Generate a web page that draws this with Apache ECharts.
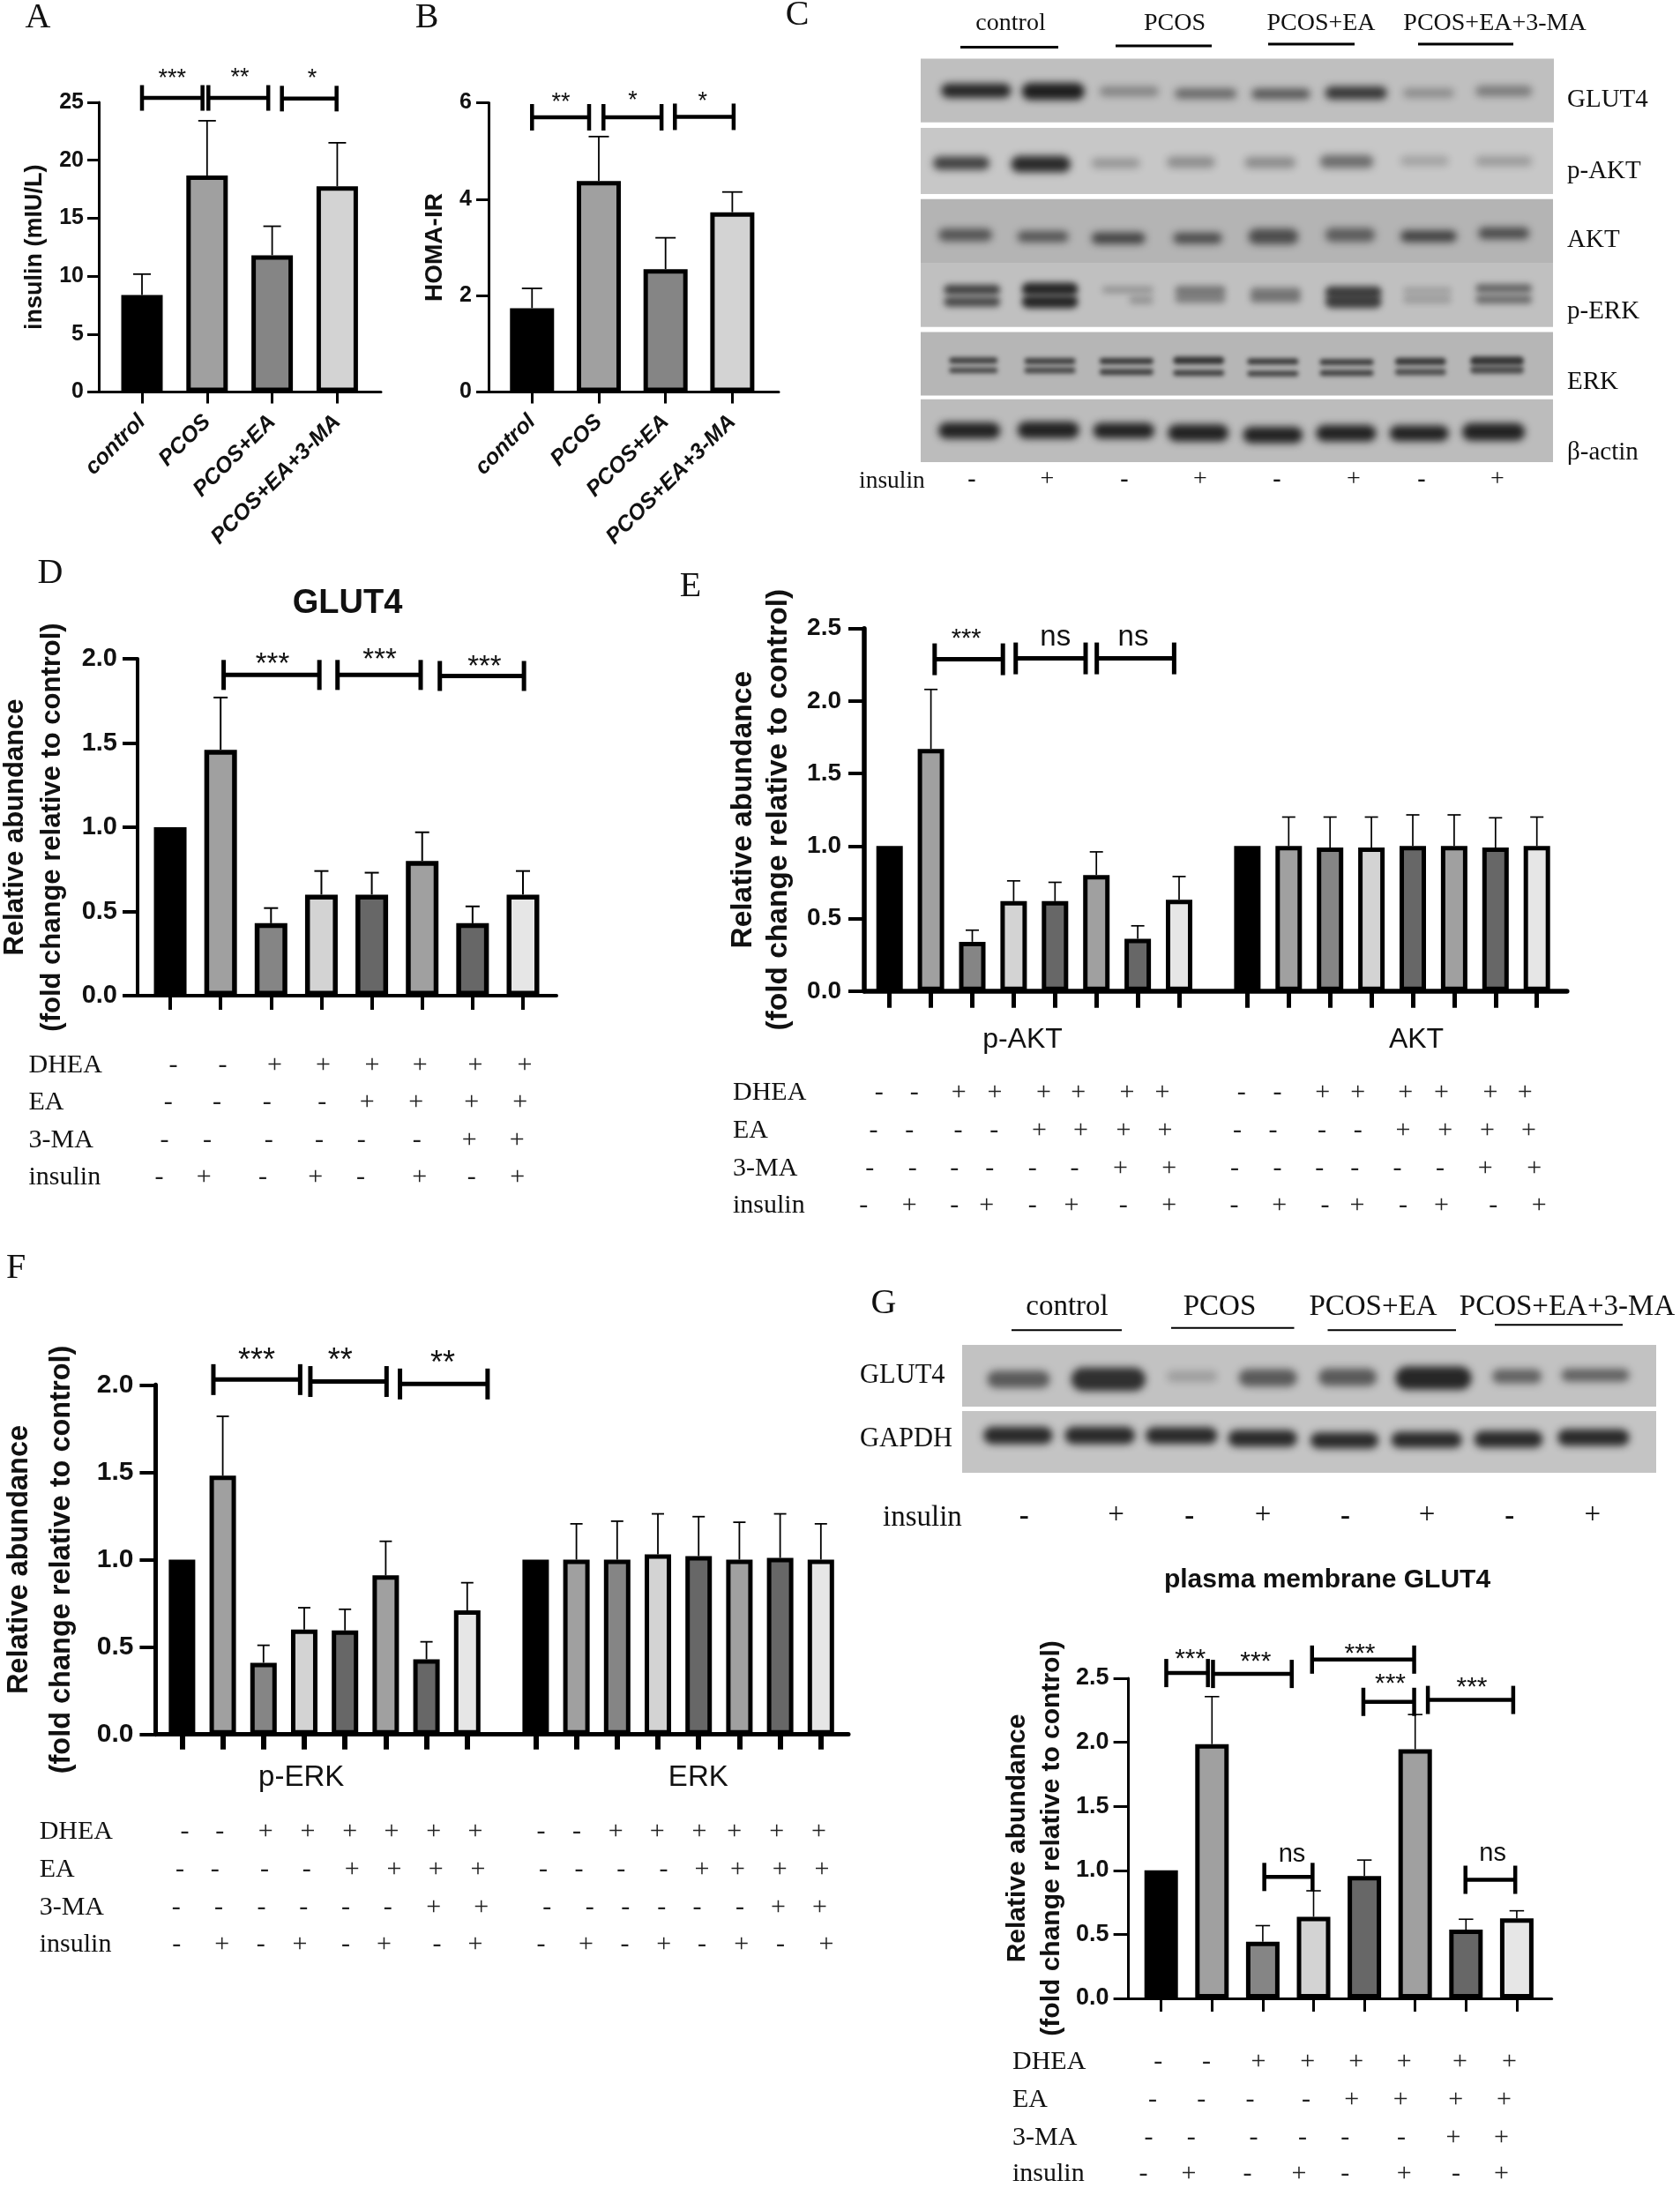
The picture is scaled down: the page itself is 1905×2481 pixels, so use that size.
<!DOCTYPE html>
<html><head><meta charset="utf-8">
<style>html,body{margin:0;padding:0;background:#fff}#c{width:1905px;height:2481px}</style>
<script src="https://cdn.jsdelivr.net/npm/echarts@6/dist/echarts.min.js"></script>
</head><body><div id="c"></div>
<script>
// ---------- DATA ----------
const groupNames = ['control','PCOS','PCOS+EA','PCOS+EA+3-MA'];
const insulinMean = [8.36,18.68,11.8,17.75];
const insulinErr  = [10.17,23.4,14.3,21.5];
const homaMean = [1.74,4.38,2.55,3.73];
const homaErr  = [2.15,5.3,3.2,4.15];
const glut4Mean = [1,1.46,0.43,0.60,0.60,0.80,0.43,0.60];
const glut4Err  = [null,1.77,0.52,0.74,0.73,0.97,0.53,0.74];
const pAktMean = [1,1.67,0.34,0.62,0.62,0.80,0.36,0.63];
const pAktErr  = [null,2.08,0.42,0.76,0.75,0.96,0.45,0.79];
const aktMean = [1,1,0.99,0.99,1,1,0.99,1];
const aktErr  = [null,1.2,1.2,1.2,1.215,1.215,1.195,1.2];
const pErkMean = [1,1.48,0.41,0.60,0.595,0.91,0.43,0.71];
const pErkErr  = [null,1.82,0.51,0.725,0.716,1.105,0.53,0.868];
const erkMean = [1,1,1,1.03,1.02,1,1.01,1];
const erkErr  = [null,1.205,1.22,1.262,1.246,1.214,1.262,1.205];
const pmGlut4Mean = [1,1.985,0.443,0.637,0.955,1.945,0.537,0.624];
const pmGlut4Err  = [null,2.356,0.568,0.84,1.08,2.216,0.618,0.684];

const pos4 = [0,1,2,3];
const pos8 = [0,1,2,3,4,5,6,7];
const posE = [0,1,2,3,4,5,6,7,8.65,9.65,10.65,11.65,12.65,13.65,14.65,15.65];
const posF = [0,1,2,3,4,5,6,7,8.68,9.68,10.68,11.68,12.68,13.68,14.68,15.68];

const FILLS4 = ['#000000','#a0a0a0','#858585','#d3d3d3'];
const FILLS8 = ['#000000','#a0a0a0','#858585','#d3d3d3','#676767','#a0a0a0','#676767','#e6e6e6'];

const signRows = {
  DHEA:'--++++++', EA:'----++++', '3-MA':'------++', insulin:'-+-+-+-+'
};

// significance brackets, in axis units: [from bar, to bar, level]
const bracketsA = [[0,0.93,25.37],[1.02,1.94,25.37],[2.15,2.99,25.31]];
const bracketsB = [[0,0.855,5.70],[1.07,1.94,5.70],[2.14,3.02,5.71]];
const bracketsD = [[1.06,2.96,1.904],[3.32,4.97,1.904],[5.35,7.02,1.898]];
const bracketsE = [[1.09,2.74,2.288],[3.05,4.74,2.294],[5.01,6.88,2.294]];
const bracketsF = [[0.77,2.90,2.03],[3.15,5.02,2.019],[5.35,7.50,2.005]];
const bracketsG = [[0.10,0.92,2.54],[1.02,2.57,2.533],[2.97,4.98,2.645],[3.98,4.98,2.315],[5.25,6.93,2.33],[2.03,2.98,0.948],[5.99,6.97,0.926]];

// ---------- PANEL LAYOUT ----------
const panels = [
 {L:112,T:115.9,R:432,B:444.5,xmin:-0.664,xmax:3.672,ymax:25,step:5,dec:0,pos:pos4,mean:insulinMean,err:insulinErr,fills:FILLS4,barW:47,bord:5,
  name:'insulin (mIU/L)',nameSize:27,gap:57,lh:30,lab:25,margin:4,axis:3,tickX:13,tickY:13,tickW:3,tickXW:3,capW:20,errW:1.8,labelsX:true,brk:bracketsA,bh:14.5,bLW:4.5},
 {L:554,T:116.6,R:883,B:444.5,xmin:-0.651,xmax:3.695,ymax:6,step:2,dec:0,pos:pos4,mean:homaMean,err:homaErr,fills:FILLS4,barW:50,bord:5,
  name:'HOMA-IR',nameSize:28,gap:46,lh:30,lab:25,margin:5,axis:3,tickX:13,tickY:14,tickW:3,tickXW:3,capW:23,errW:1.8,labelsX:true,brk:bracketsB,bh:15,bLW:4.5},
 {L:156,T:747,R:631,B:1129,xmin:-0.648,xmax:7.665,ymax:2,step:0.5,dec:1,pos:pos8,mean:glut4Mean,err:glut4Err,fills:FILLS8,barW:37,bord:5.5,
  name:'Relative abundance\n(fold change relative to control)',nameSize:31,gap:76,lh:42,lab:29,margin:6,axis:4,tickX:16,tickY:17,tickW:4,tickXW:4,capW:16,errW:2,brk:bracketsD,bh:17,bLW:5},
 {L:980,T:712.7,R:1776.8,B:1123.8,xmin:-0.612,xmax:16.377,ymax:2.5,step:0.5,dec:1,pos:posE,mean:pAktMean.concat(aktMean),err:pAktErr.concat(aktErr),fills:FILLS8,barW:30,bord:5,
  name:'Relative abundance\n(fold change relative to control)',nameSize:33.5,gap:77,lh:40,lab:28,margin:8,axis:5.5,tickX:19,tickY:18,tickW:4,tickXW:5,capW:15,errW:1.7,brk:bracketsE,bh:18,bLW:5},
 {L:176.4,T:1570.3,R:962,B:1966.7,xmin:-0.649,xmax:16.355,ymax:2,step:0.5,dec:1,pos:posF,mean:pErkMean.concat(erkMean),err:pErkErr.concat(erkErr),fills:FILLS8,barW:30,bord:5,
  name:'Relative abundance\n(fold change relative to control)',nameSize:32.5,gap:82,lh:48,lab:30,margin:7,axis:5,tickX:17,tickY:18,tickW:4,tickXW:6,capW:14,errW:1.8,brk:bracketsF,bh:17.5,bLW:5},
 {L:1279.6,T:1902.9,R:1759.6,B:2266,xmin:-0.644,xmax:7.689,ymax:2.5,step:0.5,dec:1,pos:pos8,mean:pmGlut4Mean,err:pmGlut4Err,fills:FILLS8,barW:38,bord:5,
  name:'Relative abundance\n(fold change relative to control)',nameSize:30,gap:67,lh:39,lab:27,margin:5,axis:3,tickX:15,tickY:17,tickW:3,tickXW:3,capW:16.5,errW:1.6,brk:bracketsG,bh:16,bLW:4.5}
];

// ---------- TEXT & BLOT ANNOTATIONS ----------
const SERIF = "'Liberation Serif'", SANS = "'Liberation Sans'";
const gfx = [];
function txt(s,x,y,size,o){o=o||{};
  gfx.push({type:'text',x:x,y:y,z:50,silent:true,style:{text:s,fill:o.fill||'#111',align:o.align||'center',verticalAlign:'middle',
    font:(o.style?o.style+' ':'')+(o.weight?o.weight+' ':'')+size+'px '+(o.family||SERIF)}});
}
const star = (s,x,y,size)=>txt(s,x,y+0.22*size,size,{family:SANS});
const ns = (x,y,size)=>txt('ns',x,y,size,{family:SANS});
function hline(x1,x2,y,w){gfx.push({type:'line',z:40,silent:true,shape:{x1:x1,y1:y,x2:x2,y2:y},style:{stroke:'#000',lineWidth:w}});}

// panel letters
[['A',43,20],['B',484,20],['C',904,17],['D',57,650],['E',783,665],['F',18,1438],['G',1002,1478]].forEach(l=>txt(l[0],l[1],l[2],40));

// titles and group names
txt('GLUT4',394,685,38,{family:SANS,weight:'bold'});
txt('plasma membrane GLUT4',1505,1792,30,{family:SANS,weight:'bold'});
txt('p-AKT',1159.5,1179,32,{family:SANS}); txt('AKT',1606,1179,32,{family:SANS});
txt('p-ERK',341.7,2016,33,{family:SANS}); txt('ERK',791.8,2016,33,{family:SANS});

// significance text
[['***',195.2,84,27],['**',272,83,27],['*',354,84,27],['**',636,110.7,27],['*',717.6,108.7,27],['*',796.8,109.5,27],
 ['***',309,747,33],['***',430.6,742,33],['***',549.4,750,33],
 ['***',1095.7,718.5,29],
 ['***',290.9,1536.6,36],['**',385.8,1536.6,36],['**',502,1539,36],
 ['***',1349.7,1875,30],['***',1423.8,1878,30],['***',1542,1869,30],['***',1576.5,1903,30],['***',1669,1907,30]
].forEach(a=>star(a[0],a[1],a[2],a[3]));
ns(1196.7,723,33); ns(1285,723,33); ns(1465,2103,29); ns(1692.6,2102,29);

// sign rows under the bars
function signs(label,lx,y,size,sym,xs,ox,k){
  txt(label,lx,y,size,{align:'left'});
  xs.forEach((z,i)=>{const c=sym[i]; txt(c,ox+z/k,y,size,{fill:'#222'});});
}
const rowNames=['DHEA','EA','3-MA','insulin'];
// D
[[1208,[453,582,718,845,973,1098,1243,1372]],[1250,[440,567,698,842,960,1088,1233,1360]],
 [1293,[430,542,703,835,945,1090,1227,1352]],[1335,[416,533,687,825,943,1097,1233,1353]]]
 .forEach((r,i)=>signs(rowNames[i],32.5,r[0],30,signRows[rowNames[i]],r[1],0,2.306));
// E
[[1239.6,[366,423,495,553,632,688,767,824,952,1010,1083,1140,1217,1275,1354,1410]],
 [1282,[357,415,494,552,625,692,761,828,945,1003,1082,1140,1213,1281,1349,1416]],
 [1325,[351,420,488,545,614,682,756,835,941,1010,1078,1135,1204,1273,1346,1425]],
 [1367,[341,415,488,540,614,677,761,835,940,1013,1087,1139,1213,1275,1359,1433]]]
 .forEach((r,i)=>{const s=signRows[rowNames[i]];signs(rowNames[i],831,r[0],30,s+s,r[1],740,1.4255);});
// F
[[2077.6,[342,407,492,570,648,725,803,880,1002,1068,1140,1217,1295,1360,1438,1516]],
 [2120,[333,398,490,568,652,730,807,885,1006,1072,1150,1229,1300,1366,1444,1522]],
 [2163,[326,405,484,562,640,718,803,891,1013,1092,1158,1225,1291,1370,1441,1518]],
 [2205,[327,411,483,555,640,711,809,880,1002,1085,1157,1229,1300,1373,1445,1530]]]
 .forEach((r,i)=>{const s=signRows[rowNames[i]];signs(rowNames[i],44.7,r[0],30,s+s,r[1],0,1.633);});
// G
[[2338,[455,578,710,835,958,1080,1222,1347]],[2381,[441,565,689,831,947,1071,1211,1334]],
 [2424.4,[431,539,698,822,930,1073,1205,1327]],[2465,[418,533,682,813,930,1080,1212,1327]]]
 .forEach((r,i)=>signs(rowNames[i],1148,r[0],30,signRows[rowNames[i]],r[1],1110,2.24));

// western blot C
const OFF=4000;
function sheet(x1,y1,x2,y2,c){gfx.push({type:'rect',z:1,silent:true,shape:{x:x1,y:y1,width:x2-x1,height:y2-y1},style:{fill:c}});}
function band(x1,x2,yc,h,a,blur){
  const w=Math.max(4,x2-x1-3), hh=Math.max(3,h);
  gfx.push({type:'rect',z:2,silent:true,shape:{x:x1+1.5-OFF,y:yc-hh/2,width:w,height:hh,r:hh/2},
    style:{fill:'#000',shadowColor:'rgba(22,22,22,'+a+')',shadowBlur:blur||8,shadowOffsetX:OFF}});
}
const cx=z=>950+z/1.642, cy=z=>z/2.703;
sheet(1044,66.6,1762,138.7,'#bfbfbf');
sheet(1044,145,1761,220,'#c7c7c7');
sheet(1044,225.7,1761,298,'#b4b4b4');
sheet(1044,298,1761,370.7,'#c0c0c0');
sheet(1044,376.6,1761,448.4,'#b6b6b6');
sheet(1044,452.8,1761,524,'#bcbcbc');
const lanesGlut4=[[190,325,278,36,.9],[340,462,280,44,.95],[485,600,280,22,.35],[625,745,287,24,.5],[768,882,288,24,.6],[905,1025,285,32,.8],[1050,1150,285,20,.3],[1185,1295,279,24,.4]];
const lanesPAkt=[[175,285,500,32,.75],[320,436,503,42,.88],[470,565,500,22,.28],[610,705,497,26,.32],[755,855,498,26,.33],[895,1000,495,32,.5],[1045,1140,493,22,.2],[1185,1295,494,22,.25]];
const lanesAkt=[[185,290,720,30,.6],[332,432,725,26,.6],[470,575,730,28,.7],[622,718,730,26,.65],[762,860,725,40,.65],[905,1003,720,34,.55],[1045,1155,724,28,.72],[1190,1290,715,28,.65]];
const lanesPErkU=[[195,305,888,24,.75],[340,450,886,34,.9],[490,590,888,16,.25],[625,725,890,24,.4],[765,865,895,26,.35],[905,1015,895,30,.75],[1050,1145,890,14,.2],[1185,1295,884,20,.55]];
const lanesPErkL=[[195,305,925,24,.7],[340,450,925,34,.9],[540,590,920,20,.25],[625,725,915,24,.35],[765,865,915,24,.35],[905,1015,925,34,.75],[1050,1145,918,20,.2],[1185,1295,918,20,.5]];
const lanesErkU=[[205,300,1105,16,.75],[345,445,1107,16,.75],[485,590,1107,16,.8],[622,722,1105,20,.82],[760,860,1108,16,.8],[895,1000,1110,16,.78],[1035,1135,1108,20,.78],[1175,1280,1106,24,.8]];
const lanesErkL=[[205,300,1135,14,.7],[345,445,1135,16,.7],[485,590,1140,16,.75],[622,722,1143,16,.75],[760,860,1145,14,.75],[895,1000,1143,16,.75],[1035,1135,1140,18,.65],[1175,1280,1134,20,.65]];
const lanesActin=[[185,305,1320,42,.92],[332,452,1318,44,.92],[473,592,1320,40,.92],[612,730,1327,44,.92],[752,868,1333,42,.92],[888,1005,1328,42,.92],[1025,1140,1328,40,.92],[1160,1282,1324,46,.92]];
[lanesGlut4,lanesPAkt,lanesAkt,lanesActin].forEach(ls=>ls.forEach(b=>band(cx(b[0]),cx(b[1]),cy(b[2]),b[3]/2.703+3,b[4])));
[lanesPErkU,lanesPErkL].forEach(ls=>ls.forEach(b=>band(cx(b[0]),cx(b[1]),cy(b[2]),b[3]/2.703+2,b[4],7)));
[lanesErkU,lanesErkL].forEach(ls=>ls.forEach(b=>band(cx(b[0]),cx(b[1]),cy(b[2]),b[3]/2.703+1,b[4],5)));
[['GLUT4',113],['p-AKT',194],['AKT',272.7],['p-ERK',353],['ERK',433.6],['β-actin',513.5]].forEach(l=>txt(l[0],1777,l[1],29,{align:'left'}));
txt('control',1146,27,28);txt('PCOS',1332,27,28);txt('PCOS+EA',1498,27,28);txt('PCOS+EA+3-MA',1695,27,28);
hline(1089,1200,53.6,3);hline(1265,1374,52,3);hline(1438,1536,50,3);hline(1608,1716,50,3);
txt('insulin',974,546,27.5,{align:'left'});
[1102,1275,1448,1612].forEach(x=>txt('-',x,544,28,{weight:'bold'}));
[1187.5,1361,1535,1698].forEach(x=>txt('+',x,544,28,{}));

// western blot G
const gx=z=>960+z/1.659, gy=z=>1440+z/3;
sheet(1091,1525,1878,1595,'#c2c2c2');
sheet(1091,1600,1878,1670,'#c4c4c4');
const lanesGGlut4=[[262,385,372,50,.6],[420,565,372,70,.85],[600,700,362,30,.2],[735,850,367,50,.6],[885,1000,365,50,.6],[1030,1178,368,70,.9],[1212,1310,362,40,.55],[1342,1475,358,35,.55]];
const lanesGapdh=[[255,390,563,50,.88],[408,545,563,50,.88],[560,700,563,48,.88],[715,850,573,48,.88],[870,1003,580,46,.88],[1022,1160,578,46,.88],[1178,1312,576,48,.88],[1335,1475,570,48,.88]];
[lanesGGlut4,lanesGapdh].forEach(ls=>ls.forEach(b=>band(gx(b[0]),gx(b[1]),gy(b[2]),b[3]/3+3,b[4])));
txt('GLUT4',975,1560,30.5,{align:'left'});txt('GAPDH',975,1632,30.5,{align:'left'});
txt('control',1210,1482,33);txt('PCOS',1383,1482,33);txt('PCOS+EA',1557,1482,33);txt('PCOS+EA+3-MA',1777,1482,33);
hline(1147,1272,1508.3,2);hline(1328,1467.5,1505.7,2);hline(1505.5,1651,1508.3,2);hline(1695,1840,1502.3,2);
txt('insulin',1001,1721,33,{align:'left'});
[1161.3,1348.8,1525.4,1711.7].forEach(x=>txt('-',x,1720,33,{weight:'bold'}));
[1265.6,1432,1618,1805.7].forEach(x=>txt('+',x,1718,33,{}));

// ---------- ECHARTS OPTION ----------
const grids=[],xAxes=[],yAxes=[],series=[];
panels.forEach((p,i)=>{
  grids.push({left:p.L,top:p.T,width:p.R-p.L,height:p.B-p.T,containLabel:false,outerBoundsMode:'none'});
  xAxes.push({type:'value',gridIndex:i,min:p.xmin,max:p.xmax,containShape:false,splitLine:{show:false},
    axisLine:{show:true,onZero:false,lineStyle:{color:'#000',width:p.axis}},
    axisTick:{show:true,customValues:p.pos,length:p.tickX,lineStyle:{color:'#000',width:p.tickXW}},
    axisLabel:p.labelsX?{show:true,customValues:p.pos,rotate:45,margin:30,hideOverlap:false,
      formatter:v=>groupNames[p.pos.indexOf(v)]||'',fontFamily:SANS,fontSize:25,fontWeight:'bold',fontStyle:'italic',color:'#111'}
      :{show:false,customValues:p.pos}});
  yAxes.push({type:'value',gridIndex:i,min:0,max:p.ymax,interval:p.step,splitLine:{show:false},
    axisLine:{show:true,onZero:false,lineStyle:{color:'#000',width:p.axis}},
    axisTick:{show:true,length:p.tickY,lineStyle:{color:'#000',width:p.tickW}},
    axisLabel:{show:true,margin:p.margin+p.tickY,fontFamily:SANS,fontSize:p.lab,fontWeight:'bold',color:'#111',formatter:v=>v.toFixed(p.dec)},
    name:p.name,nameLocation:'middle',nameRotate:90,nameGap:p.gap,nameMoveOverlap:false,
    nameTextStyle:{fontFamily:SANS,fontSize:p.nameSize,fontWeight:'bold',color:'#111',lineHeight:p.lh}});
  series.push({type:'bar',xAxisIndex:i,yAxisIndex:i,barWidth:p.barW,silent:true,animation:false,z:3,
    data:p.pos.map((x,k)=>({value:[x,p.mean[k]],itemStyle:{color:p.fills[k%p.fills.length],borderColor:'#000',borderWidth:p.bord}}))});
  series.push({type:'custom',xAxisIndex:i,yAxisIndex:i,silent:true,animation:false,z:4,clip:false,
    encode:{x:0,y:1},
    data:p.pos.map((x,k)=>[x,p.mean[k],p.err[k]]).filter(d=>d[2]!=null),
    renderItem:(params,api)=>{
      const a=api.coord([api.value(0),api.value(1)]),b=api.coord([api.value(0),api.value(2)]);
      const st={stroke:'#000',lineWidth:p.errW};
      return {type:'group',children:[
        {type:'line',shape:{x1:a[0],y1:a[1],x2:b[0],y2:b[1]},style:st},
        {type:'line',shape:{x1:b[0]-p.capW/2,y1:b[1],x2:b[0]+p.capW/2,y2:b[1]},style:st}]};
    }});
  series.push({type:'custom',xAxisIndex:i,yAxisIndex:i,silent:true,animation:false,z:5,clip:false,
    encode:{x:0,y:2},
    data:p.brk,
    renderItem:(params,api)=>{
      const a=api.coord([api.value(0),api.value(2)]),b=api.coord([api.value(1),api.value(2)]);
      const st={stroke:'#000',lineWidth:p.bLW};
      return {type:'group',children:[
        {type:'line',shape:{x1:a[0],y1:a[1],x2:b[0],y2:b[1]},style:st},
        {type:'line',shape:{x1:a[0],y1:a[1]-p.bh,x2:a[0],y2:a[1]+p.bh},style:st},
        {type:'line',shape:{x1:b[0],y1:b[1]-p.bh,x2:b[0],y2:b[1]+p.bh},style:st}]};
    }});
});

const chart=echarts.init(document.getElementById('c'),null,{renderer:'canvas',width:1905,height:2481});
chart.setOption({animation:false,backgroundColor:'#fff',tooltip:{show:false},legend:{show:false},
  grid:grids,xAxis:xAxes,yAxis:yAxes,series:series,graphic:{elements:gfx}});
</script></body></html>
